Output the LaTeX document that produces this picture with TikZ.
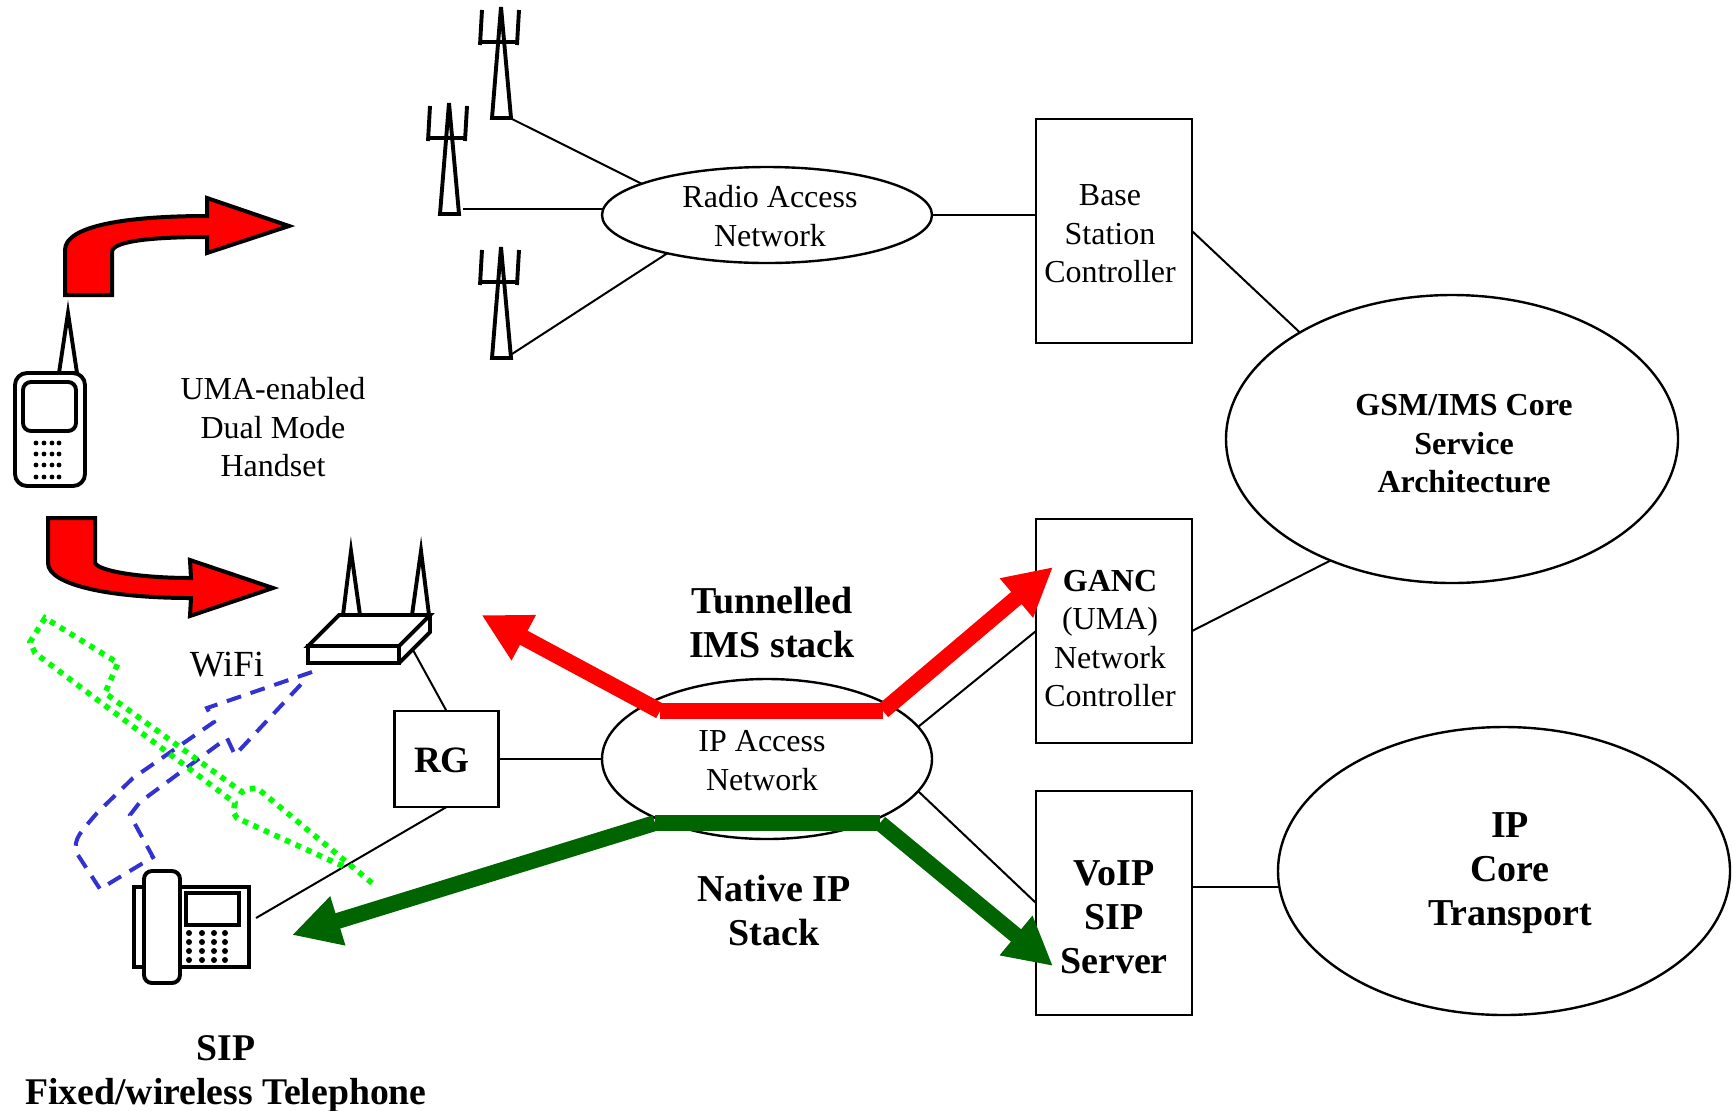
\documentclass[tikz,border=0pt]{standalone}
\usepackage{fontspec}
\setmainfont{Liberation Serif}
\usetikzlibrary{arrows.meta,shapes.geometric,calc}
\definecolor{bluedash}{RGB}{50,50,210}
\definecolor{greenpath}{RGB}{0,100,0}
\tikzset{
  conn/.style={draw=black,line width=1pt},
  boxnode/.style={draw=black,line width=1.2pt,rectangle,minimum width=78pt,minimum height=112pt,inner sep=0,outer sep=0},
  ellnode/.style={draw=black,line width=1.2pt,ellipse,inner sep=0,outer sep=0},
  lab/.style={align=center,font=\fontsize{16}{19.25}\selectfont,inner sep=0},
  blab/.style={align=center,font=\fontsize{19}{22}\selectfont\bfseries,inner sep=0},
  icon/.style={draw=black,line width=1.95pt,line join=miter},
  bigarrow/.style={draw=black,fill=red,line width=2pt,line join=miter},
  redstack/.style={draw=red,line width=8pt,-{Triangle[length=24pt,width=24pt]}},
  greenstack/.style={draw=greenpath,line width=8pt,-{Triangle[length=24pt,width=24pt]}},
  redbar/.style={draw=red,line width=8pt},
  greenbar/.style={draw=greenpath,line width=8pt},
  wifiblue/.style={draw=bluedash,line width=2pt,dash pattern=on 7.5pt off 5pt},
  wifigreen/.style={draw=green,line width=2.8pt,dash pattern=on 2.8pt off 3pt},
  towerpic/.pic={
    \draw[icon] (-9,111) -- (0,0) -- (10,111) -- cycle;
    \draw[icon] (-19,3) -- (-21,38) (-21,35) -- (16,35) (18,3) -- (16,38);
  }
}
\begin{document}
\begin{tikzpicture}[x=0.5pt,y=-0.5pt]
\useasboundingbox (0,0) rectangle (1733,1110);

% main shapes
\node[ellnode,minimum width=165pt,minimum height=48pt] (ran) at (767,215) {};
\node[ellnode,minimum width=165pt,minimum height=80pt] (ipa) at (767,759) {};
\node[ellnode,minimum width=226pt,minimum height=144pt] (gsm) at (1452,439) {};
\node[ellnode,minimum width=226pt,minimum height=144pt] (ipc) at (1504,871) {};
\node[boxnode] (bsc) at (1114,231) {};
\node[boxnode] (ganc) at (1114,631) {};
\node[boxnode] (voip) at (1114,903) {};
\node[boxnode,minimum width=52pt,minimum height=48pt] (rg) at (446.5,759) {};

% text
\node[lab] (tran) at (770,216) {Radio Access\\Network};
\node[lab] (tbsc) at (1110,234) {Base\\Station\\Controller};
\node[lab] (tuma) at (273,427.5) {UMA-enabled\\Dual Mode\\Handset};
\node[lab,font=\fontsize{16}{19.25}\selectfont\bfseries] (tgsm) at (1464,444) {GSM/IMS Core\\Service\\Architecture};
\node[lab] (tganc) at (1110,638.5) {\textbf{GANC}\\(UMA)\\Network\\Controller};
\node[lab] (tipa) at (762,760.5) {IP Access\\Network};
\node[blab] (ttun) at (772,622) {Tunnelled\\IMS stack};
\node[blab] (tnat) at (774,910) {Native IP\\Stack};
\node[blab] (tvoip) at (1114,917.5) {VoIP\\SIP\\Server};
\node[blab] (tipc) at (1510,873) {IP\\Core\\Transport};
\node[blab,font=\fontsize{18.6}{22}\selectfont\bfseries] (trg) at (442,760) {RG};
\node[lab,font=\fontsize{18.4}{22}\selectfont] (twifi) at (227,665) {WiFi};
\node[blab,font=\fontsize{18.85}{22}\selectfont\bfseries] (tsip) at (226,1074) {SIP\\Fixed/wireless Telephone};

% named free ends
\coordinate (t1) at (512,119);
\coordinate (t2) at (463,211);
\coordinate (t3) at (512,354);
\coordinate (rtr) at (413,650);
\coordinate (phn) at (256,918);

% thin connectors
\draw[conn] (t1) -- (ran.166);
\draw[conn] (t2 |- ran.178.6) -- (ran.178.6);
\draw[conn] (t3) -- (ran.201);
\draw[conn] (ran.east) -- (ran.east -| bsc.west);
\draw[conn] (bsc.east) -- (gsm.145.2);
\draw[conn] (ganc.east) -- (gsm.225);
\draw[conn] (voip.east |- ipc.184) -- (ipc.184);
\draw[conn] (ipa.12.5) -- (ganc.west);
\draw[conn] (ipa.-12.7) -- (voip.west);
\draw[conn] (rg.east |- ipa.west) -- (ipa.west);
\draw[conn] (rtr) -- (rg.north);
\draw[conn] (rg.south) -- (phn);

% towers
\pic at (501,7) {towerpic};
\pic at (449,103) {towerpic};
\pic at (501,247) {towerpic};

% handset
\draw[icon,rounded corners=6pt] (15,373) rectangle (85,486);
\draw[icon,rounded corners=4pt] (23,382) rectangle (76,431);
\draw[icon,fill=white] (59,373) -- (68,313) -- (77,373) -- cycle;
\foreach \y in {443,454,465,477}
  \foreach \x in {36,44,52,59}
    \fill (\x,\y) circle[radius=2.4];

% curved red arrows
\draw[bigarrow] (65,295) -- (112,295) -- (112,252)
  .. controls (112,240) and (160,237) .. (207,237)
  -- (207,253) -- (289,226) -- (207,198) -- (207,216)
  .. controls (130,216) and (65,225) .. (65,250) -- cycle;
\draw[bigarrow] (48,518) -- (95,518) -- (95,563)
  .. controls (100,572) and (145,578) .. (191,578)
  -- (190,560) -- (273,588) -- (190,616) -- (191,598)
  .. controls (110,598) and (48,585) .. (48,563) -- cycle;

% router
\draw[icon] (339,615) -- (430,615) -- (399,646) -- (308,646) -- cycle;
\draw[icon] (308,646) rectangle (399,663);
\draw[icon] (430,615) -- (430,632) -- (399,663);
\draw[icon] (343,615) -- (351,551) -- (360,615);
\draw[icon] (412,615) -- (421,551) -- (429,615);

% wireless beams
\draw[wifiblue] (312,672) -- (207,708) -- (214,722) -- (133,778) -- (97,813)
  .. controls (80,833) and (74,838) .. (76,852) -- (100,889) -- (153,857) -- (130,815)
  -- (140,802) -- (227,738) -- (235,755) -- (305,680);
\draw[wifigreen] (372,883) -- (257,788) -- (248,789) -- (242,792) -- (105,693) -- (118,663)
  -- (45,618) -- (30,642) -- (35,653) -- (235,803) -- (233,812) -- (237,818) -- (347,868);

% telephone
\draw[icon] (134,887) rectangle (249,967);
\draw[icon,line width=2.1pt] (186,893) rectangle (239,925);
\draw[icon,fill=white,rounded corners=4pt] (144,871) rectangle (180,983);
\foreach \y in {933,942,951,960}
  \foreach \x in {189,202,214,225}
    \fill (\x,\y) circle[radius=3];

% stacks
\coordinate (ra) at (660,711);
\coordinate (rb) at (883,711);
\coordinate (ga) at (655,823);
\coordinate (gb) at (880,823);
\coordinate (rl) at (481.5,615);
\coordinate (rr) at (1053,567);
\coordinate (gl) at (292,935);
\coordinate (gr) at (1053,966);
\draw[redstack] (ra) -- (rl);
\draw[redstack] (rb) -- (rr);
\draw[redbar] (ra) -- (rb);
\draw[greenstack] (ga) -- (gl);
\draw[greenstack] (gb) -- (gr);
\draw[greenbar] (ga) -- (gb);
\end{tikzpicture}
\end{document}
